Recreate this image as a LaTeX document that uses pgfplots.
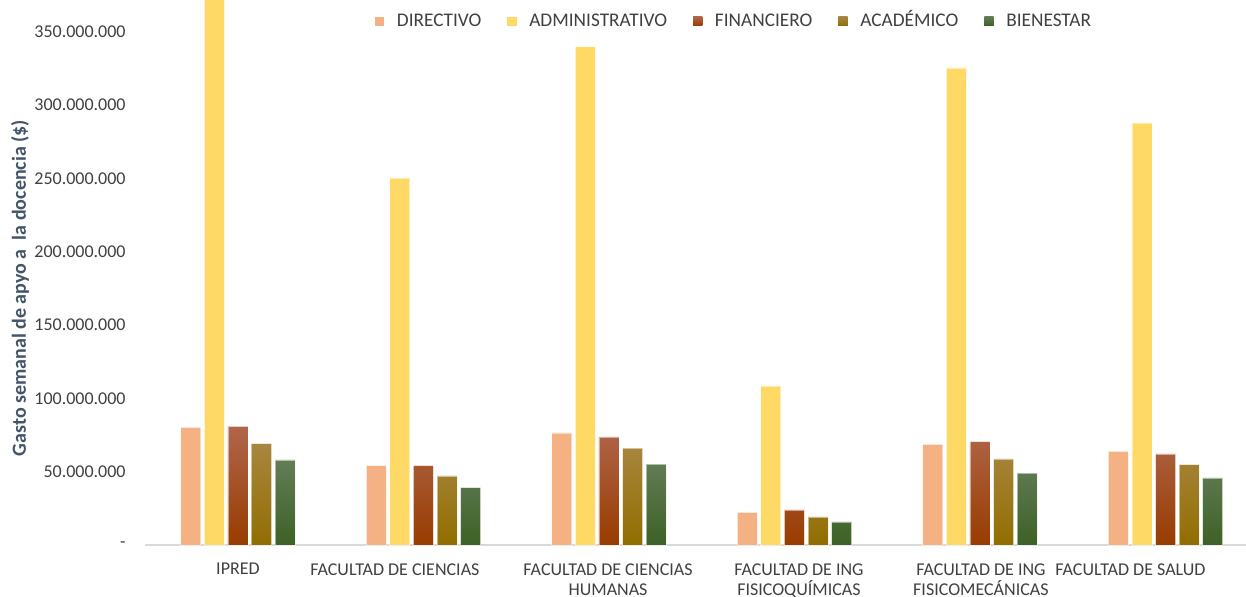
\documentclass[border=0pt]{standalone}
\usepackage{pgfplots}
\pgfplotsset{compat=1.18}
\usepackage{fontspec}
\setmainfont{Carlito}
\definecolor{cdir}{HTML}{F4B183}
\definecolor{cadm}{HTML}{FFD966}
\definecolor{cfinT}{HTML}{B0664B}
\definecolor{cfinM}{HTML}{A5450B}
\definecolor{cfinB}{HTML}{983C00}
\definecolor{cacaT}{HTML}{A8863F}
\definecolor{cacaM}{HTML}{9E7700}
\definecolor{cacaB}{HTML}{916E00}
\definecolor{cbieT}{HTML}{637D57}
\definecolor{cbieM}{HTML}{476F30}
\definecolor{cbieB}{HTML}{3D6125}
\definecolor{axgray}{HTML}{D9D9D9}
\definecolor{txt}{HTML}{404040}
\definecolor{ylab}{HTML}{44546A}

\pgfplotstableread{
x dir adm fin aca bie
0 80300000 385000000 81000000 69100000 58000000
1 54100000 250400000 54100000 47100000 39100000
2 76400000 339800000 73700000 66000000 55100000
3 22300000 108500000 23900000 19100000 15700000
4 68700000 325400000 70500000 58700000 49100000
5 63900000 287900000 62100000 54800000 45700000
}\datatable

\pgfplotsset{
  barst/.style={ybar, bar width=10pt, draw=white, draw opacity=0.5, line width=0.4pt},
  sq/.style={legend image code/.code={\fill[fill=#1, draw=none, draw opacity=0] (0pt,-2.325pt) rectangle (4.65pt,2.325pt);}},
}

\begin{document}
\begin{tikzpicture}
\useasboundingbox (-72.6pt,-26pt) rectangle (550.4pt,272.5pt);
\begin{axis}[
  at={(0,0)}, anchor=south west, scale only axis,
  width=550.4pt, height=272.5pt,
  xmin=-0.5, xmax=5.434, ymin=0, ymax=371800000,
  clip=false,
  axis x line*=bottom, axis y line*=left,
  x axis line style={draw=axgray, line width=1pt, -},
  y axis line style={draw=none},
  xtick=\empty,
  ytick={0,50000000,100000000,150000000,200000000,250000000,300000000,350000000},
  yticklabels={-,50.000.000,100.000.000,150.000.000,200.000.000,250.000.000,300.000.000,350.000.000},
  major tick length=0pt,
  yticklabel style={font=\fontsize{9}{11}\selectfont, text=txt, anchor=east, inner sep=0pt, xshift=-9.6pt},
  legend style={at={(0.5358,0.961)}, anchor=center, draw=none,
    legend columns=5, font=\fontsize{9.65}{11}\selectfont, text=txt,
    /tikz/every odd column/.append style={column sep=4.3pt},
    /tikz/every even column/.append style={column sep=11pt, text height=6.4pt, text depth=0pt}},
]
\addplot[barst, bar shift=-23.6pt, fill=cdir, sq=cdir] table[x=x,y=dir]{\datatable};
\addlegendentry{DIRECTIVO}
\addplot[barst, bar shift=-11.8pt, fill=cadm, sq=cadm] table[x=x,y=adm]{\datatable};
\addlegendentry{ADMINISTRATIVO}
\addplot[barst, bar shift=0pt, top color=cfinT, middle color=cfinM, bottom color=cfinB, sq=cfinM] table[x=x,y=fin]{\datatable};
\addlegendentry{FINANCIERO}
\addplot[barst, bar shift=11.8pt, top color=cacaT, middle color=cacaM, bottom color=cacaB, sq=cacaM] table[x=x,y=aca]{\datatable};
\addlegendentry{ACADÉMICO}
\addplot[barst, bar shift=23.6pt, top color=cbieT, middle color=cbieM, bottom color=cbieB, sq=cbieM] table[x=x,y=bie]{\datatable};
\addlegendentry{BIENESTAR}

\coordinate (L0) at (axis cs:0,0);
\coordinate (L1) at (axis cs:0.846,0);
\coordinate (L2) at (axis cs:1.995,0);
\coordinate (L3) at (axis cs:3.024,0);
\coordinate (L4) at (axis cs:4.005,0);
\coordinate (L5) at (axis cs:4.811,0);
\coordinate (YL) at (rel axis cs:0,0);
\end{axis}
\begin{scope}[every node/.style={anchor=north, inner sep=0pt, align=center, text=txt, font=\fontsize{9}{10}\selectfont, yshift=-9pt}]
\node at (L0) {IPRED};
\node at (L1) {FACULTAD DE CIENCIAS};
\node at (L2) {FACULTAD DE CIENCIAS\\HUMANAS};
\node at (L3) {FACULTAD DE ING\\FISICOQUÍMICAS};
\node at (L4) {FACULTAD DE ING\\FISICOMECÁNICAS};
\node at (L5) {FACULTAD DE SALUD};
\end{scope}
\node[rotate=90, text=ylab, font=\bfseries\fontsize{10}{12}\selectfont, inner sep=0pt] at ([xshift=-62.6pt, yshift=128.5pt]YL) {Gasto semanal de apyo a\ \ la docencia (\$)};
\end{tikzpicture}
\end{document}
